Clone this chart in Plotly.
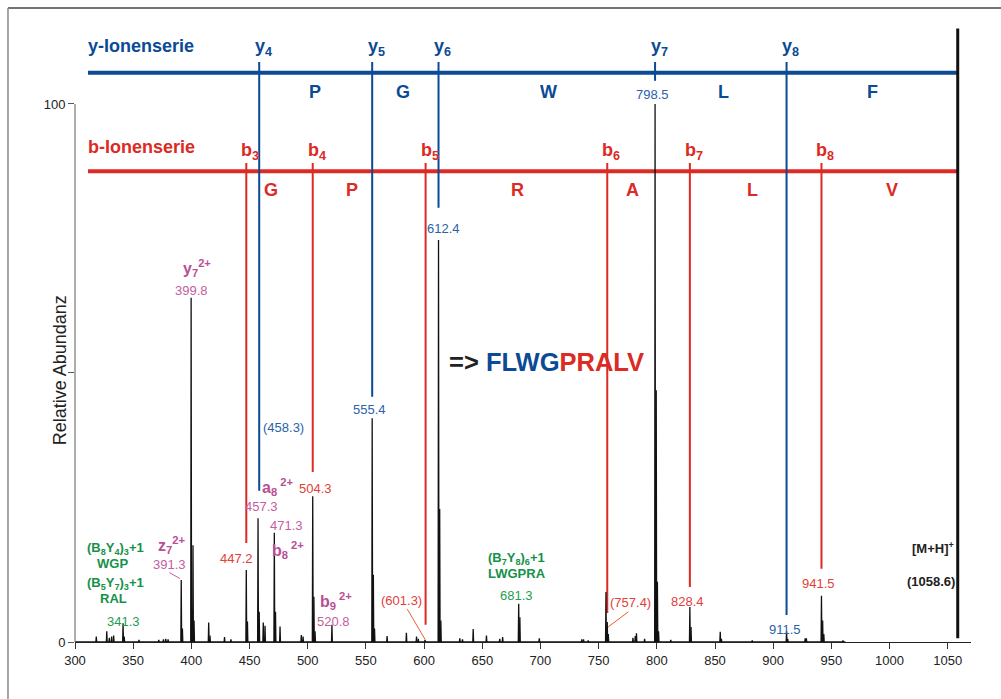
import plotly.graph_objects as go

# ---------------- data ----------------
peak_mz = [318.3, 327.3, 329.5, 331.5, 333.2, 341.3, 342.3, 355.0, 372.0, 376.0, 378.0, 380.0,
           391.3, 392.3, 399.8, 400.8, 401.4, 402.3, 414.9, 416.0, 428.5, 434.0,
           447.2, 448.2, 457.3, 458.3, 461.8, 463.3, 471.3, 472.3, 476.2, 494.5, 496.0,
           504.3, 505.3, 506.3, 520.8, 555.4, 556.4, 557.4, 568.2, 584.8, 593.5, 595.0, 600.8,
           612.4, 613.4, 614.4, 630.7, 633.0, 642.2, 653.6, 665.0, 667.5, 681.3, 682.3, 699.0,
           735.5, 737.0, 741.0, 756.3, 757.4, 758.3, 779.5, 781.5, 782.5, 789.5,
           798.5, 799.5, 800.5, 801.5, 812.0, 828.4, 829.4, 854.5, 855.5, 882.0,
           911.5, 912.5, 927.5, 928.5, 941.5, 942.5, 943.5, 960.0]
peak_int = [1.0, 2.0, 0.8, 1.0, 1.2, 3.5, 1.0, 0.4, 0.4, 0.5, 0.6, 0.5,
            11.5, 2.5, 64.0, 6.0, 18.0, 4.0, 3.6, 1.2, 0.9, 0.5,
            13.4, 3.8, 23.0, 5.6, 3.6, 3.0, 20.3, 5.6, 2.9, 1.3, 1.0,
            27.1, 8.4, 2.0, 3.2, 41.6, 12.5, 2.5, 1.1, 1.7, 1.0, 0.6, 0.4,
            74.7, 24.7, 4.0, 0.7, 0.5, 2.4, 1.2, 0.6, 0.9, 7.1, 4.6, 0.7,
            0.5, 0.5, 0.3, 9.3, 3.7, 1.5, 0.8, 1.1, 1.6, 0.6,
            100.0, 46.8, 11.2, 2.0, 0.4, 6.5, 2.8, 1.9, 0.6, 0.3,
            2.0, 0.6, 0.7, 0.7, 8.6, 4.0, 1.5, 0.3]

y_ion_index = [4, 5, 6, 7, 8]
y_ion_mz = [458.3, 555.4, 612.4, 798.5, 911.5]
y_ion_text = ["(458.3)", "555.4", "612.4", "798.5", "911.5"]
y_residues = ["P", "G", "W", "L", "F"]

b_ion_index = [3, 4, 5, 6, 7, 8]
b_ion_mz = [447.2, 504.3, 601.3, 757.4, 828.4, 941.5]
b_ion_text = ["447.2", "504.3", "(601.3)", "(757.4)", "828.4", "941.5"]
b_residues = ["G", "P", "R", "A", "L", "V"]

precursor_mz = 1058.6
precursor_text = "(1058.6)"
sequence_y_part = "FLWG"
sequence_b_part = "PRALV"

pink_labels = ["<b>y<sub>7</sub><sup>2+</sup></b>", "399.8",
               "<b>a<sub>8</sub><sup> 2+</sup></b>", "457.3",
               "471.3", "<b>b<sub>8</sub><sup> 2+</sup></b>",
               "<b>z<sub>7</sub><sup>2+</sup></b>", "391.3",
               "<b>b<sub>9</sub><sup> 2+</sup></b>", "520.8"]
green_labels = ["<b>(B<sub>8</sub>Y<sub>4</sub>)<sub>3</sub>+1</b>", "<b>WGP</b>",
                "<b>(B<sub>5</sub>Y<sub>7</sub>)<sub>3</sub>+1</b>", "<b>RAL</b>", "341.3",
                "<b>(B<sub>7</sub>Y<sub>8</sub>)<sub>6</sub>+1</b>", "<b>LWGPRA</b>", "681.3"]

x_ticks = list(range(300, 1051, 50))

# ---------------- layout / styling ----------------
BLUE = "#0b4a94"
BLUE_TXT = "#2a62aa"
RED = "#dc2a24"
RED_TXT = "#e2403a"
PINK = "#c4609f"
PINK_B = "#b84f94"
GREEN = "#1e9e52"
GREEN_B = "#16914a"
FONT = "Liberation Sans, Arial, Helvetica, sans-serif"

XR = [300, 1070]
YR = [0, 115.6]

y_line_level = 105.8
b_line_level = 87.5
series_x_start = 311.2
y_tick_top = 107.8
b_tick_top = 89.0
y_line_bottom = [28.1, 45.6, 80.7, 104.3, 5.0]
b_line_bottom = [18.4, 31.6, 3.2, 5.4, 10.2, 13.6]
y_label_pos = [(479.0, 39.8), (552.7, 43.3), (617.1, 76.8), (796.1, 101.7), (910.2, 2.4)]
b_label_pos = [(439.0, 15.6), (506.3, 28.6), (580.8, 7.8), (777.6, 7.3), (826.2, 7.5), (938.8, 10.8)]
y_res_pos = [506.3, 581.9, 706.5, 856.9, 985.0]
b_res_pos = [468.4, 538.0, 679.9, 779.5, 881.8, 1002.0]
pink_pos = [(404.5, 69.5), (400.3, 65.4), (473.6, 28.8), (460.4, 25.1), (481.9, 21.6),
            (483.1, 17.1), (382.9, 18.0), (381.6, 14.4), (524.7, 7.7), (522.3, 3.8)]
green_pos = [(335.0, 17.4), (332.5, 14.6), (335.0, 10.8), (333.0, 8.0), (341.5, 3.8),
             (679.6, 15.6), (679.6, 12.8), (679.6, 8.6)]

fig = go.Figure()

# series horizontal lines
fig.add_trace(go.Scatter(x=[series_x_start, precursor_mz], y=[y_line_level] * 2, mode="lines",
                         line=dict(color=BLUE, width=4), hoverinfo="skip", showlegend=False))
fig.add_trace(go.Scatter(x=[series_x_start, precursor_mz], y=[b_line_level] * 2, mode="lines",
                         line=dict(color=RED, width=4), hoverinfo="skip", showlegend=False))

# b-ion verticals
bx, by = [], []
for mz, bot in zip(b_ion_mz, b_line_bottom):
    bx += [mz, mz, None]
    by += [b_tick_top, bot, None]
fig.add_trace(go.Scatter(x=bx, y=by, mode="lines", line=dict(color=RED, width=2),
                         hoverinfo="skip", showlegend=False))
# y-ion verticals
yx, yy = [], []
for mz, bot in zip(y_ion_mz, y_line_bottom):
    yx += [mz, mz, None]
    yy += [y_tick_top, bot, None]
fig.add_trace(go.Scatter(x=yx, y=yy, mode="lines", line=dict(color=BLUE, width=2),
                         hoverinfo="skip", showlegend=False))

# leader lines
leaders = [((381.0, 12.9), (390.2, 11.8), PINK),
           ((585.6, 6.1), (600.8, 0.5), "#e8602c"),
           ((775.5, 5.6), (756.3, 2.5), "#e8602c")]
for (x0, y0), (x1, y1), c in leaders:
    fig.add_trace(go.Scatter(x=[x0, x1], y=[y0, y1], mode="lines", line=dict(color=c, width=1),
                             hoverinfo="skip", showlegend=False))

# spectrum
sx, sy = [298, 962], [0, 0]
sx.append(None); sy.append(None)
half = 0.35
for mz, h in zip(peak_mz, peak_int):
    sx += [mz - half, mz, mz + half, None]
    sy += [0, h, 0, None]
fig.add_trace(go.Scatter(x=sx, y=sy, mode="lines", line=dict(color="#111111", width=1.3),
                         hoverinfo="skip", showlegend=False))

# precursor line
fig.add_trace(go.Scatter(x=[precursor_mz, precursor_mz], y=[0.7, 114.0], mode="lines",
                         line=dict(color="#111111", width=3), hoverinfo="skip", showlegend=False))

ann = []


def A(x, y, text, size, color, **kw):
    d = dict(x=x, y=y, xref="x", yref="y", text=text, showarrow=False,
             font=dict(family=FONT, size=size, color=color))
    d.update(kw)
    ann.append(d)


A(series_x_start, 110.8, "<b>y-Ionenserie</b>", 18, BLUE, xanchor="left", xshift=-2)
A(series_x_start, 92.0, "<b>b-Ionenserie</b>", 18, RED, xanchor="left", xshift=-2)
for i, mz in zip(y_ion_index, y_ion_mz):
    A(mz, 110.4, "<b>y<sub>%d</sub></b>" % i, 18, BLUE, xshift=4)
for i, mz in zip(b_ion_index, b_ion_mz):
    A(mz, 91.2, "<b>b<sub>%d</sub></b>" % i, 18, RED, xshift=4)
for r, x in zip(y_residues, y_res_pos):
    A(x, 102.2, "<b>%s</b>" % r, 18, BLUE)
for r, x in zip(b_residues, b_res_pos):
    A(x, 84.0, "<b>%s</b>" % r, 18, RED)
for t, (x, y) in zip(y_ion_text, y_label_pos):
    A(x, y, t, 13, BLUE_TXT)
for t, (x, y) in zip(b_ion_text, b_label_pos):
    A(x, y, t, 13, RED_TXT)
for t, (x, y) in zip(pink_labels, pink_pos):
    A(x, y, t, 16 if t.startswith("<b>") else 13, PINK_B if t.startswith("<b>") else PINK)
for t, (x, y) in zip(green_labels, green_pos):
    A(x, y, t, 13, GREEN_B if t.startswith("<b>") else GREEN)
A(1057.4, 17.5, "<b>[M+H]<sup>+</sup></b>", 13, "#222222", xanchor="right")
A(1058.0, 11.2, "<b>%s</b>" % precursor_text, 13, "#222222", xanchor="right")
A(619.7, 52.0, "<b>=> <span style='color:%s'>%s</span><span style='color:%s'>%s</span></b>"
  % (BLUE, sequence_y_part, RED, sequence_b_part), 25.5, "#222222", xanchor="left")
ann.append(dict(x=-0.0301, y=50.5, xref="paper", yref="y", text="Relative Abundanz",
                textangle=-90, showarrow=False, font=dict(family=FONT, size=18, color="#222222")))

# frame and y-axis line
shapes = [
    dict(type="line", xref="paper", yref="paper", x0=-0.0748, x1=1.2, y0=1.0193, y1=1.0193,
         line=dict(color="#444444", width=1.5)),
    dict(type="line", xref="paper", yref="paper", x0=-0.0748, x1=-0.0748, y0=-0.2, y1=1.0193,
         line=dict(color="#888888", width=1.5)),
    dict(type="line", xref="paper", yref="y", x0=0, x1=0, y0=0, y1=100,
         line=dict(color="#777777", width=1.2)),
]

fig.update_layout(
    width=1001, height=699,
    margin=dict(l=75, r=30, t=20, b=57, pad=0),
    paper_bgcolor="white", plot_bgcolor="white",
    showlegend=False,
    annotations=ann, shapes=shapes,
    xaxis=dict(range=XR, tickvals=x_ticks, ticks="outside", ticklen=6, tickcolor="#333333",
               showline=True, linecolor="#222222", linewidth=1.3, showgrid=False, zeroline=False,
               tickfont=dict(family=FONT, size=13, color="#222222")),
    yaxis=dict(range=YR, tickvals=[0, 50, 100], ticktext=["0", "", "100"], ticks="outside",
               ticklen=6, tickcolor="#555555", showline=False, showgrid=False, zeroline=False,
               tickfont=dict(family=FONT, size=13, color="#222222")),
)

fig.write_html("out.html", config={"displayModeBar": False})
